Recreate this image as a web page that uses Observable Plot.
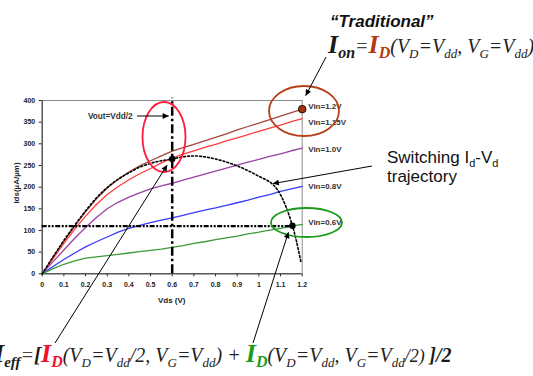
<!DOCTYPE html>
<html><head><meta charset="utf-8">
<script src="https://cdn.jsdelivr.net/npm/d3@7"></script>
<script src="https://cdn.jsdelivr.net/npm/@observablehq/plot@0.6"></script>
<style>
body{margin:0;background:#fff;}
#chart{position:relative;width:533px;height:376px;overflow:hidden;}
</style></head><body><div id="chart"></div>
<script>
// ---- data ----
const vds = [0,0.05,0.1,0.15,0.2,0.25,0.3,0.35,0.4,0.45,0.5,0.55,0.6,0.65,0.7,0.75,0.8,0.85,0.9,0.95,1.0,1.05,1.1,1.15,1.2];
const vin12  = [0,38,75,110,143,173,198,218,235,249,261,272,283,291,299,307,315,323,332,340,348,356,364,372,380];
const vin115 = [0,35,70,103,133,160,183,201,217,231,243,256,267,276,284,292,299,307,314,321,329,336,343,351,358];
const vin10  = [0,28,55,82,107,130,150,165,177,187,196,203,209,216,223,230,237,244,251,258,264,271,277,284,290];
const vin08  = [0,17,33,48,62,74,85,96,105,112,118,124,129,135,141,147,152,158,164,170,177,183,190,196,202];
const vin06  = [0,12,22,30,36,39,42,45,48,51,54,57,61,65,70,74,79,83,87,92,96,101,105,110,114];
const seriesNames  = ["Vin=1.2V","Vin=1.15V","Vin=1.0V","Vin=0.8V","Vin=0.6V"];
const seriesValues = [vin12, vin115, vin10, vin08, vin06];
const seriesColors = ["#a0463c","#ff3b3b","#9a3fa6","#3a3aff","#3a9a3a"];
const labelDy      = [-3, 4, 1, 0, -2];

const trajVds = [0,0.05,0.1,0.15,0.2,0.25,0.3,0.35,0.4,0.45,0.5,0.55,0.6,0.65,0.7,0.75,0.8,0.85,0.9,0.95,1.0,1.05,1.08,1.1,1.125,1.155,1.175,1.195];
const trajIds = [0,39,77,112,145,175,199,218,233,246,255,261,265,270,272,270,265,258,249,238,225,212,198,182,155,111,72,25];

const voutHalf = 0.6;       // Vout = Vdd/2
const ieffLevel = 110;      // Id(VD=Vdd, VG=Vdd/2)
const ieffVds = 1.155;
const ionPoint = {vds:1.2, ids:380};
const midPoint = {vds:0.6, ids:265};
const lowPoint = {vds:1.155, ids:111};
const switchPoint = {vds:1.067, ids:207};

const xTicks = [0,0.1,0.2,0.3,0.4,0.5,0.6,0.7,0.8,0.9,1.0,1.1,1.2];
const xTickLabels = ["0","0.1","0.2","0.3","0.4","0.5","0.6","0.7","0.8","0.9","1","1.1","1.2"];
const yTicks = [0,50,100,150,200,250,300,350,400];

// ---- tables ----
const rows = [];
seriesValues.forEach((vals, si) => vals.forEach((v, i) => rows.push({vds: vds[i], ids: v, s: seriesNames[si]})));
const ends = seriesValues.map((vals, si) => ({vds: vds[vds.length-1], ids: vals[vals.length-1], s: seriesNames[si], dy: labelDy[si]}));
const traj = trajVds.map((v, i) => ({vds: v, ids: trajIds[i]}));

const chart = Plot.plot({
  width: 533, height: 376,
  marginLeft: 41.7, marginRight: 231.3, marginTop: 100, marginBottom: 102.7,
  x: {domain: [0, 1.2], ticks: xTicks, tickFormat: d => xTickLabels[Math.round(d*10)], tickSize: 3, tickPadding: 5, label: null},
  y: {domain: [0, 400], ticks: yTicks, tickSize: 3, tickPadding: 4, label: null},
  color: {domain: seriesNames, range: seriesColors},
  style: {fontFamily: "Liberation Sans, Arial, sans-serif", fontSize: "7px", fontWeight: "bold", color: "#222", background: "white", overflow: "hidden"},
  marks: [
    Plot.frame({stroke: "#8c8c8c"}),
    Plot.ruleX([0], {stroke: "#333"}),
    Plot.ruleY([0], {stroke: "#333"}),
    Plot.line(rows, {x: "vds", y: "ids", z: "s", stroke: "s", strokeWidth: 1.3}),
    Plot.ruleX([voutHalf], {y1: 0, y2: 405, stroke: "#000", strokeWidth: 2.5, strokeDasharray: "9,3,2.5,3"}),
    Plot.ruleY([ieffLevel], {x1: 0, x2: ieffVds, stroke: "#000", strokeWidth: 2.2, strokeDasharray: "5,1.5,2,1.5,2,1.5"}),
    Plot.line(traj, {x: "vds", y: "ids", stroke: "#000", strokeWidth: 1.6, strokeDasharray: "1.8,2.2", curve: "catmull-rom"}),
    ...ends.map(e => Plot.text([e], {x: "vds", y: "ids", text: "s", dx: 6, dy: e.dy, textAnchor: "start", fontSize: 8, fontWeight: "bold", fill: "#333"})),
    Plot.dot([ionPoint], {x: "vds", y: "ids", r: 3.8, fill: "#a8300c", stroke: "#000", strokeWidth: 0.8}),
    Plot.dot([midPoint, lowPoint], {x: "vds", y: "ids", r: 3.2, fill: "#000"})
  ]
});
document.getElementById("chart").appendChild(chart);

// ---- annotations overlay ----
const sx = chart.scale("x").apply, sy = chart.scale("y").apply;
const svg = d3.select(chart);
const defs = svg.append("defs");
defs.append("marker").attr("id","ah").attr("viewBox","0 0 10 10").attr("refX",10).attr("refY",5)
  .attr("markerWidth",7).attr("markerHeight",6).attr("markerUnits","userSpaceOnUse").attr("orient","auto")
  .append("path").attr("d","M0,0L10,5L0,10z").attr("fill","#000");

const g = svg.append("g").attr("text-anchor","start");
function ellipse(cx, cy, rx, ry, color) {
  g.append("ellipse").attr("cx",cx).attr("cy",cy).attr("rx",rx).attr("ry",ry)
   .attr("fill","none").attr("stroke",color).attr("stroke-width",1.8);
}
ellipse(304, 111, 35, 25, "#b5401a");
ellipse(164, 137, 21.5, 35, "#ff1a3c");
ellipse(306.5, 222.5, 35.5, 14.5, "#1a9a1a");

function arrow(x1, y1, x2, y2) {
  g.append("line").attr("x1",x1).attr("y1",y1).attr("x2",x2).attr("y2",y2)
   .attr("stroke","#000").attr("stroke-width",1).attr("marker-end","url(#ah)");
}
arrow(326, 57, sx(ionPoint.vds)+4, sy(ionPoint.ids)-13);
arrow(137, 116, sx(voutHalf)-3, 116);
arrow(372, 166, sx(switchPoint.vds), sy(switchPoint.ids));
arrow(55, 343, sx(midPoint.vds)-4.5, sy(midPoint.ids)+6.5);
arrow(253, 343, sx(lowPoint.vds)-3.5, sy(lowPoint.ids)+7);

function plainText(x, y, txt, opts) {
  const t = g.append("text").attr("x",x).attr("y",y).text(txt)
    .attr("font-family", opts.family || "Liberation Sans, Arial, sans-serif")
    .attr("font-size", opts.size).attr("font-weight", opts.weight || "normal")
    .attr("font-style", opts.style || "normal").attr("fill", opts.fill || "#222")
    .attr("text-anchor", opts.anchor || "start");
  if (opts.rotate) t.attr("transform", `rotate(${opts.rotate},${x},${y})`);
  return t;
}
plainText(sx(0.6), 303, "Vds (V)", {size: 8, weight: "bold", anchor: "middle"});
plainText(19, 183, "Ids(µA/µm)", {size: 8, weight: "bold", anchor: "middle", rotate: -90});
plainText(88, 119, "Vout=Vdd/2", {size: 8.2, weight: "bold", fill: "#333"});
plainText(330, 27, "\u201CTraditional\u201D", {size: 17, weight: "bold", style: "italic", fill: "#111"});

function rich(x, y, parts, family) {
  const t = g.append("text").attr("x",x).attr("y",y).attr("font-family",family)
    .attr("text-anchor","start").style("white-space","pre");
  let off = 0;
  parts.forEach(p => {
    const target = p.sub ? p.sub : 0;
    t.append("tspan").attr("dy", target - off).text(p.t)
      .attr("font-size", p.size).attr("font-weight", p.w || "normal")
      .attr("font-style", p.it === false ? "normal" : "italic").attr("fill", p.fill || "#222");
    off = target;
  });
  return t;
}
const SER = "Liberation Serif, Times New Roman, serif";
const dark = "#1a1a1a", rust = "#b5390f", red = "#f0102a", green = "#1a9e1a";
const V = 20, S = 13;
rich(328, 53, [
  {t:"I", size:26, w:"bold", fill:dark},
  {t:"on", size:16, w:"bold", fill:dark, sub:5},
  {t:"=", size:V, fill:"#444"},
  {t:"I", size:26, w:"bold", fill:rust},
  {t:"D", size:16, w:"bold", fill:rust, sub:5},
  {t:"(V", size:V},
  {t:"D", size:S, sub:5},
  {t:"=V", size:V},
  {t:"dd", size:S, sub:5},
  {t:", V", size:V},
  {t:"G", size:S, sub:5},
  {t:"=V", size:V},
  {t:"dd", size:S, sub:5},
  {t:")", size:V}
], SER);
rich(-6, 362, [
  {t:"I", size:26, w:"bold", fill:dark},
  {t:"eff", size:15, w:"bold", fill:dark, sub:5},
  {t:"=", size:V, fill:"#444"},
  {t:"[", size:21, w:"bold", fill:dark},
  {t:"I", size:26, w:"bold", fill:red},
  {t:"D", size:16, w:"bold", fill:red, sub:5},
  {t:"(V", size:V},
  {t:"D", size:S, sub:5},
  {t:"=V", size:V},
  {t:"dd", size:S, sub:5},
  {t:"/2, V", size:V},
  {t:"G", size:S, sub:5},
  {t:"=V", size:V},
  {t:"dd", size:S, sub:5},
  {t:") + ", size:V},
  {t:"I", size:26, w:"bold", fill:green},
  {t:"D", size:16, w:"bold", fill:green, sub:5},
  {t:"(V", size:V},
  {t:"D", size:S, sub:5},
  {t:"=V", size:V},
  {t:"dd", size:S, sub:5},
  {t:", V", size:V},
  {t:"G", size:S, sub:5},
  {t:"=V", size:V},
  {t:"dd", size:S, sub:5},
  {t:"/2) ", size:18},
  {t:"]/2", size:20, w:"bold", fill:dark}
], SER);

const SANS = "Liberation Sans, Arial, sans-serif";
rich(387, 163, [
  {t:"Switching I", size:17, it:false, fill:"#111"},
  {t:"d", size:11, it:false, fill:"#111", sub:4},
  {t:"-V", size:17, it:false, fill:"#111"},
  {t:"d", size:11, it:false, fill:"#111", sub:4}
], SANS);
plainText(387, 182, "trajectory", {size: 17, fill: "#111"});
</script></body></html>
